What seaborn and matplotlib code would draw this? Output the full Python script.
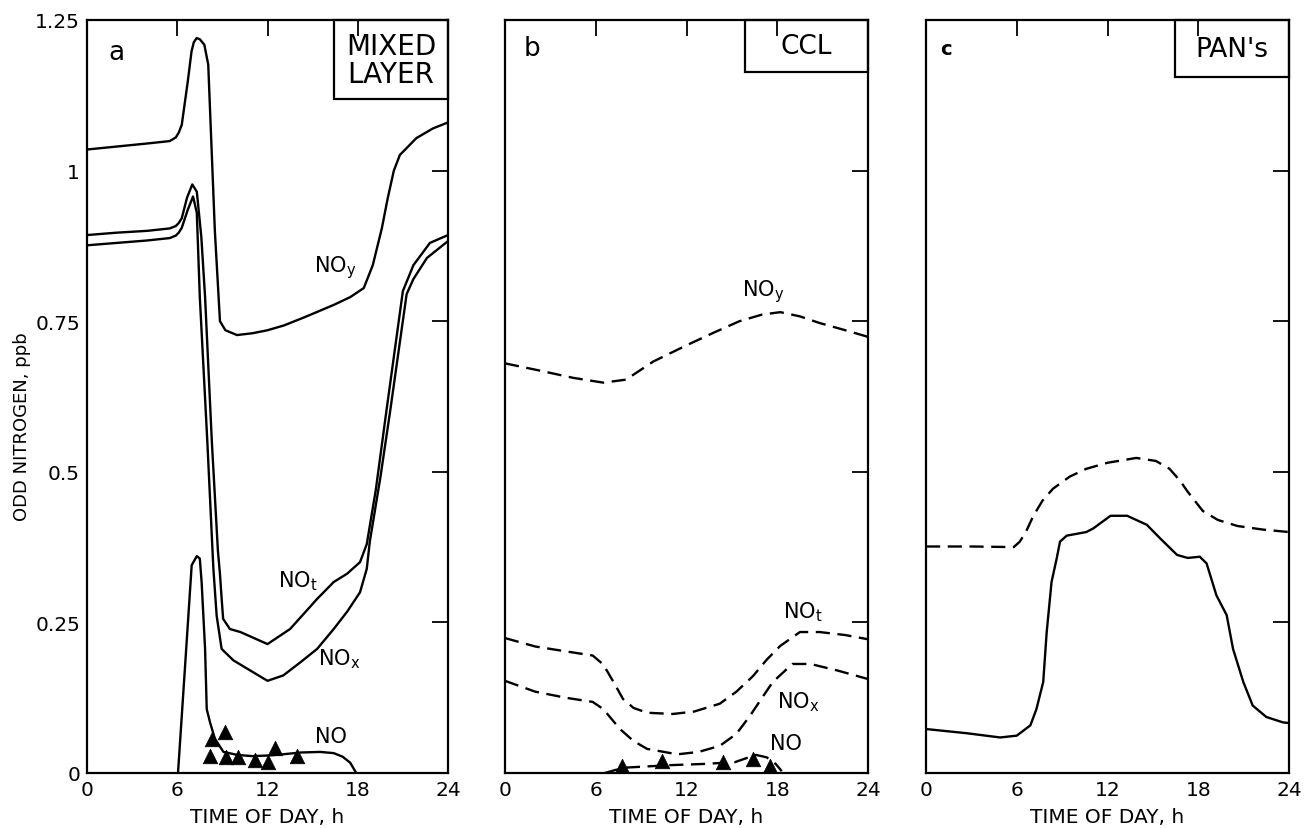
import matplotlib
matplotlib.use("Agg")
import matplotlib.pyplot as plt
import seaborn as sns
from matplotlib.patches import Rectangle

# ---------------- data ----------------
hours_ticks = [0, 6, 12, 18, 24]
y_ticks = [0, 0.25, 0.5, 0.75, 1.0, 1.25]
y_tick_labels = ["0", "0.25", "0.5", "0.75", "1", "1.25"]

# Panel a : mixed layer (solid)
a_noy_x = [0, 2, 4, 5.5, 5.9, 6.1, 6.3, 6.7, 6.95, 7.1, 7.29, 7.5, 7.8, 8.06, 8.5, 8.84, 9.2, 9.97,
           11, 12, 13.1, 14.5, 16.4, 17.5, 18.4, 19.0, 19.6, 20.0, 20.4, 20.8, 21.9, 23.0, 24]
a_noy_y = [1.035, 1.040, 1.045, 1.049, 1.055, 1.063, 1.076, 1.148, 1.198, 1.213, 1.22, 1.218,
           1.209, 1.176, 0.90, 0.75, 0.735, 0.727, 0.73, 0.735, 0.743, 0.757, 0.777, 0.79, 0.805,
           0.843, 0.904, 0.955, 1.0, 1.026, 1.054, 1.07, 1.08]

a_not_x = [0, 2, 4, 5.5, 5.9, 6.1, 6.3, 6.65, 7.0, 7.3, 7.6, 7.85, 8.3, 8.7, 8.84, 8.95, 9.05, 9.5,
           10.2, 12, 13.5, 15.3, 16.4, 17.3, 18.15, 18.6, 19.2, 19.9, 21.0, 21.7, 22.8, 24]
a_not_y = [0.893, 0.897, 0.900, 0.904, 0.908, 0.913, 0.921, 0.955, 0.977, 0.965, 0.89, 0.79, 0.55,
           0.37, 0.33, 0.29, 0.256, 0.239, 0.234, 0.214, 0.239, 0.289, 0.317, 0.331, 0.35, 0.38,
           0.47, 0.60, 0.80, 0.843, 0.88, 0.893]

a_nox_x = [0, 2, 4, 5.5, 5.9, 6.1, 6.3, 6.7, 7.05, 7.3, 7.5, 8.0, 8.4, 8.62, 8.95, 9.73, 12, 13.05,
           14.2, 15.3, 16.4, 17.3, 18.15, 18.6, 18.8, 19.5, 20.15, 21.25, 21.7, 22.6, 24]
a_nox_y = [0.876, 0.880, 0.884, 0.888, 0.892, 0.897, 0.905, 0.935, 0.957, 0.93, 0.79, 0.55, 0.34,
           0.261, 0.206, 0.187, 0.153, 0.162, 0.184, 0.206, 0.239, 0.268, 0.30, 0.339, 0.384,
           0.49, 0.60, 0.795, 0.82, 0.855, 0.883]

a_no_x = [6.05, 6.5, 6.96, 7.3, 7.5, 7.62, 7.85, 7.96, 8.18, 8.5, 9.07, 10, 11, 12, 13, 14.2, 15.5,
          16.4, 17.0, 17.5, 17.9]
a_no_y = [0.0, 0.17, 0.345, 0.36, 0.356, 0.317, 0.206, 0.106, 0.084, 0.057, 0.035, 0.030, 0.028,
          0.029, 0.031, 0.034, 0.035, 0.033, 0.027, 0.017, 0.0]

a_obs_x = [8.29, 9.18, 8.18, 9.24, 10.06, 11.17, 12.06, 12.5, 13.94]
a_obs_y = [0.056, 0.068, 0.028, 0.026, 0.026, 0.022, 0.019, 0.041, 0.029]

# Panel b : CCL (dashed)
b_noy_x = [0, 2.3, 4.5, 6.5, 8.0, 9.8, 12, 13.8, 15.5, 17.0, 18.2, 19.5, 20.8, 22.5, 24]
b_noy_y = [0.68, 0.668, 0.656, 0.648, 0.653, 0.683, 0.71, 0.731, 0.75, 0.761, 0.765, 0.758, 0.747,
           0.735, 0.724]

b_not_x = [0, 2, 4, 5.8, 6.5, 7.2, 7.8, 8.5, 9.4, 11.1, 12.5, 14.2, 15.3, 16.4, 17.3, 18.2, 19.5,
           20.8, 22.5, 24]
b_not_y = [0.224, 0.21, 0.202, 0.195, 0.18, 0.15, 0.123, 0.108, 0.10, 0.098, 0.102, 0.115, 0.135,
           0.161, 0.188, 0.211, 0.234, 0.234, 0.229, 0.222]

b_nox_x = [0, 2, 4, 5.8, 6.5, 7.6, 8.5, 9.4, 11.4, 12.8, 14.2, 15.3, 16.2, 17.0, 17.7, 19.0, 20.2,
           22, 24]
b_nox_y = [0.153, 0.135, 0.125, 0.118, 0.106, 0.073, 0.053, 0.04, 0.031, 0.035, 0.045, 0.065,
           0.095, 0.125, 0.151, 0.181, 0.181, 0.17, 0.156]

b_no_x = [6.6, 7.3, 8.0, 10.9, 13.1, 15.2, 16.0, 16.6, 17.3, 17.9, 18.3]
b_no_y = [0.0, 0.005, 0.009, 0.013, 0.015, 0.018, 0.025, 0.030, 0.026, 0.015, 0.003]

b_obs_x = [7.71, 10.36, 14.43, 16.37, 17.5]
b_obs_y = [0.012, 0.020, 0.018, 0.023, 0.011]

# Panel c : PAN's
c_dash_x = [0, 3, 5.8, 6.2, 6.6, 7.1, 7.7, 8.4, 9.5, 10.6, 12, 13.9, 15.2, 16.1, 16.8, 17.3, 18.3,
            19.3, 20.6, 22.3, 24]
c_dash_y = [0.376, 0.376, 0.375, 0.384, 0.40, 0.427, 0.452, 0.472, 0.492, 0.505, 0.515, 0.523,
            0.518, 0.505, 0.485, 0.467, 0.435, 0.42, 0.41, 0.404, 0.40]

c_solid_x = [0, 2.7, 4.9, 6.0, 6.9, 7.3, 7.75, 7.98, 8.3, 8.64, 8.86, 9.3, 10.6, 11.06, 12.2, 13.3,
             14.6, 15.5, 16.6, 17.3, 18.1, 18.55, 19.2, 19.88, 20.3, 20.98, 21.6, 22.5, 23.6, 24]
c_solid_y = [0.073, 0.066, 0.059, 0.062, 0.079, 0.106, 0.151, 0.234, 0.317, 0.356, 0.384, 0.394,
             0.40, 0.406, 0.427, 0.427, 0.412, 0.389, 0.362, 0.357, 0.359, 0.348, 0.295, 0.262,
             0.206, 0.151, 0.112, 0.093, 0.084, 0.083]

# ---------------- style ----------------
sns.set_style("white")
plt.rcParams["font.family"] = ["DejaVu Sans"]
plt.rcParams["mathtext.fontset"] = "dejavusans"
for k in ("text.color", "axes.labelcolor", "xtick.color", "ytick.color", "axes.edgecolor"):
    plt.rcParams[k] = "black"

fig = plt.figure(figsize=(13.1, 8.29), dpi=100)
W, H = 1310, 829


def make_ax(left_px, right_px, top_px=21, bottom_px=774):
    return fig.add_axes([left_px / W, 1 - bottom_px / H, (right_px - left_px) / W,
                         (bottom_px - top_px) / H])


ax_a = make_ax(87, 448)
ax_b = make_ax(505, 868)
ax_c = make_ax(926, 1289)

LW = 1.7
DASH = (0, (6, 3.2))


def line(ax, x, y, dashed=False):
    sns.lineplot(x=x, y=y, ax=ax, color="black", linewidth=LW, estimator=None, sort=False,
                 linestyle=DASH if dashed else "-")


def tri(ax, x, y):
    sns.scatterplot(x=x, y=y, ax=ax, marker="^", s=110, color="black", edgecolor="black",
                    linewidth=0.5, zorder=5)


for ax in (ax_a, ax_b, ax_c):
    ax.set_xlim(0, 24)
    ax.set_ylim(0, 1.25)
    ax.set_xticks(hours_ticks)
    ax.set_xticklabels([str(h) for h in hours_ticks])
    ax.set_yticks(y_ticks)
    ax.tick_params(direction="in", length=11.5, width=1.3, top=True, right=True,
                   labelsize=14.5, pad=5, colors="black")
    for s in ax.spines.values():
        s.set_linewidth(1.6)
        s.set_color("black")
    ax.set_xlabel("TIME OF DAY, h", fontsize=14.5, labelpad=6)
    ax.set_ylabel("")

ax_a.set_yticklabels(y_tick_labels)
ax_b.set_yticklabels([])
ax_c.set_yticklabels([])

# panel a
line(ax_a, a_noy_x, a_noy_y)
line(ax_a, a_not_x, a_not_y)
line(ax_a, a_nox_x, a_nox_y)
line(ax_a, a_no_x, a_no_y)
tri(ax_a, a_obs_x, a_obs_y)

# panel b
line(ax_b, b_noy_x, b_noy_y, True)
line(ax_b, b_not_x, b_not_y, True)
line(ax_b, b_nox_x, b_nox_y, True)
line(ax_b, b_no_x, b_no_y, True)
tri(ax_b, b_obs_x, b_obs_y)

# panel c
line(ax_c, c_dash_x, c_dash_y, True)
line(ax_c, c_solid_x, c_solid_y)

# curve labels
lab_kw = dict(fontsize=15, ha="center", va="center", color="black")
ax_a.text(16.5, 0.84, r"NO$_\mathrm{y}$", **lab_kw)
ax_a.text(14.0, 0.32, r"NO$_\mathrm{t}$", **lab_kw)
ax_a.text(16.8, 0.19, r"NO$_\mathrm{x}$", **lab_kw)
ax_a.text(16.2, 0.062, "NO", **lab_kw)
ax_b.text(17.1, 0.80, r"NO$_\mathrm{y}$", **lab_kw)
ax_b.text(19.7, 0.268, r"NO$_\mathrm{t}$", **lab_kw)
ax_b.text(19.4, 0.12, r"NO$_\mathrm{x}$", **lab_kw)
ax_b.text(18.6, 0.05, "NO", **lab_kw)

# panel letters
ax_a.text(0.06, 0.975, "a", transform=ax_a.transAxes, fontsize=19, ha="left", va="top")
ax_b.text(0.05, 0.98, "b", transform=ax_b.transAxes, fontsize=19, ha="left", va="top")
ax_c.text(0.04, 0.975, "c", transform=ax_c.transAxes, fontsize=14, ha="left", va="top",
          fontweight="bold")

# title boxes
boxes = [(ax_a, 0.684, 0.895, "MIXED\nLAYER", 20), (ax_b, 0.661, 0.931, "CCL", 19),
         (ax_c, 0.686, 0.924, "PAN's", 19)]
for ax, x0, y0, txt, fs in boxes:
    ax.add_patch(Rectangle((x0, y0), 1 - x0, 1 - y0, transform=ax.transAxes, fill=False,
                           edgecolor="black", linewidth=1.6, clip_on=False, zorder=6))
    ax.text((x0 + 1) / 2, (y0 + 1) / 2, txt, transform=ax.transAxes, ha="center", va="center",
            fontsize=fs, linespacing=1.0)

fig.text(22 / W, 1 - 427 / H, "ODD NITROGEN, ppb", rotation=90, ha="center", va="center",
         fontsize=13)

fig.savefig("out.png", dpi=100)
